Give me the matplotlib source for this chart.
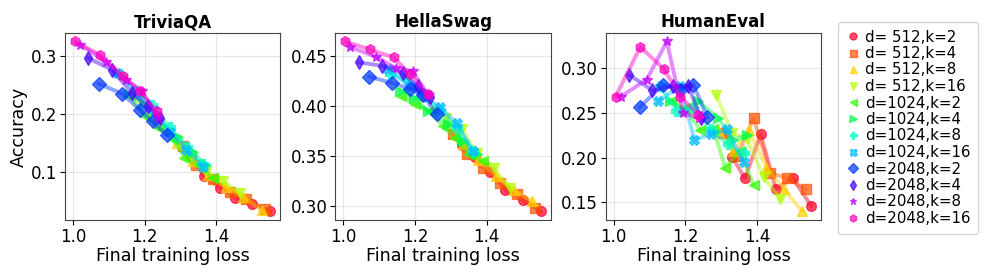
import numpy as np
import matplotlib
matplotlib.use("Agg")
import matplotlib.pyplot as plt

tasks = ["TriviaQA", "HellaSwag", "HumanEval"]
dims = [512, 1024, 2048]
ks = [2, 4, 8, 16]
markers = ["o", "s", "^", "v", "<", ">", "P", "X", "D", "d", "*", "h"]

# final training loss, one list per k (k=2, 4, 8, 16)
loss_d512 = [
    [1.330, 1.366, 1.410, 1.452, 1.500, 1.551],
    [1.306, 1.344, 1.390, 1.437, 1.484, 1.535],
    [1.290, 1.334, 1.376, 1.426, 1.475, 1.526],
    [1.286, 1.330, 1.372, 1.419, 1.465],
]
loss_d1024 = [
    [1.160, 1.200, 1.241, 1.278, 1.311, 1.351, 1.390],
    [1.157, 1.197, 1.236, 1.292, 1.334, 1.372],
    [1.130, 1.175, 1.220, 1.270, 1.318, 1.362],
    [1.124, 1.185, 1.225, 1.270, 1.316, 1.362],
]
loss_d2048 = [
    [1.072, 1.137, 1.186, 1.222, 1.261],
    [1.043, 1.108, 1.165, 1.208, 1.243],
    [1.019, 1.092, 1.148, 1.193, 1.238],
    [1.005, 1.074, 1.140, 1.186, 1.235],
]

trivia_d512 = [
    [0.128, 0.093, 0.073, 0.056, 0.046, 0.033],
    [0.145, 0.113, 0.088, 0.066, 0.055, 0.037],
    [0.150, 0.120, 0.095, 0.075, 0.058, 0.035],
    [0.155, 0.128, 0.100, 0.085, 0.065],
]
trivia_d1024 = [
    [0.231, 0.196, 0.176, 0.158, 0.125, 0.112, 0.090],
    [0.235, 0.218, 0.190, 0.160, 0.135, 0.112],
    [0.268, 0.240, 0.215, 0.178, 0.143, 0.115],
    [0.270, 0.235, 0.207, 0.170, 0.138, 0.110],
]
trivia_d2048 = [
    [0.252, 0.235, 0.2075, 0.1875, 0.1646],
    [0.296, 0.276, 0.236, 0.213, 0.193],
    [0.319, 0.290, 0.259, 0.239, 0.193],
    [0.3245, 0.302, 0.266, 0.239, 0.205],
]

hella_d512 = [
    [0.361, 0.349, 0.334, 0.316, 0.306, 0.2945],
    [0.372, 0.352, 0.338, 0.323, 0.312, 0.298],
    [0.385, 0.362, 0.346, 0.330, 0.316, 0.305],
    [0.388, 0.377, 0.353, 0.338, 0.318],
]
hella_d1024 = [
    [0.410, 0.402, 0.395, 0.380, 0.368, 0.352, 0.345],
    [0.4156, 0.408, 0.395, 0.382, 0.365, 0.352],
    [0.432, 0.428, 0.412, 0.396, 0.378, 0.355],
    [0.437, 0.420, 0.410, 0.399, 0.383, 0.355],
]
hella_d2048 = [
    [0.4298, 0.4232, 0.4176, 0.411, 0.392],
    [0.444, 0.4406, 0.433, 0.420, 0.409],
    [0.4595, 0.4494, 0.438, 0.435, 0.411],
    [0.465, 0.457, 0.449, 0.4325, 0.412],
]

human_d512 = [
    [0.201, 0.177, 0.226, 0.165, 0.177, 0.146],
    [0.228, 0.202, 0.244, 0.183, 0.177, 0.165],
    [0.231, 0.207, 0.231, 0.189, 0.165, 0.140],
    [0.2696, 0.228, 0.221, 0.178, 0.154],
]
human_d1024 = [
    [0.263, 0.255, 0.231, 0.232, 0.189, 0.207, 0.170],
    [0.263, 0.252, 0.263, 0.244, 0.220, 0.225],
    [0.280, 0.252, 0.255, 0.232, 0.215, 0.205],
    [0.263, 0.280, 0.220, 0.226, 0.2315, 0.195],
]
human_d2048 = [
    [0.256, 0.2815, 0.276, 0.2815, 0.245],
    [0.2925, 0.275, 0.280, 0.280, 0.244],
    [0.268, 0.287, 0.3296, 0.250, 0.244],
    [0.268, 0.3233, 0.299, 0.268, 0.248],
]

losses = [loss_d512, loss_d1024, loss_d2048]
scores = {
    "TriviaQA": [trivia_d512, trivia_d1024, trivia_d2048],
    "HellaSwag": [hella_d512, hella_d1024, hella_d2048],
    "HumanEval": [human_d512, human_d1024, human_d2048],
}

colors = plt.cm.gist_rainbow(np.linspace(0, 1, 12))

fig, axes = plt.subplots(1, 3, figsize=(9.97, 2.77), dpi=100)
fig.subplots_adjust(left=0.0652, right=0.8235, bottom=0.206, top=0.881, wspace=0.256)

for ax, task in zip(axes, tasks):
    i = 0
    for di, d in enumerate(dims):
        for ki, k in enumerate(ks):
            x = losses[di][ki]
            y = scores[task][di][ki]
            ax.plot(x, y, color=colors[i], lw=2.8, alpha=0.45)
            ax.plot(x, y, ls="none", marker=markers[i], color=colors[i],
                    ms=7, alpha=0.7, label=f"d={d:4d},k={k}")
            i += 1
    ax.set_title(task, fontsize=12, fontweight="bold", pad=4)
    ax.set_xlabel("Final training loss", fontsize=12.6, labelpad=1)
    ax.set_xticks([1.0, 1.2, 1.4])
    ax.tick_params(labelsize=12, pad=2)
    ax.grid(True, alpha=0.3)
    for s in ax.spines.values():
        s.set_color("#444444")

axes[0].set_ylabel("Accuracy", fontsize=12.6, labelpad=2)

handles, labels = axes[2].get_legend_handles_labels()
fig.legend(handles, labels, loc="upper left", bbox_to_anchor=(838 / 997, 1 - 22 / 277),
           borderaxespad=0, fontsize=10.8, markerscale=0.72, handlelength=1.0,
           handletextpad=0.3, labelspacing=0.1, borderpad=0.5)

fig.savefig("out.png", dpi=100)
